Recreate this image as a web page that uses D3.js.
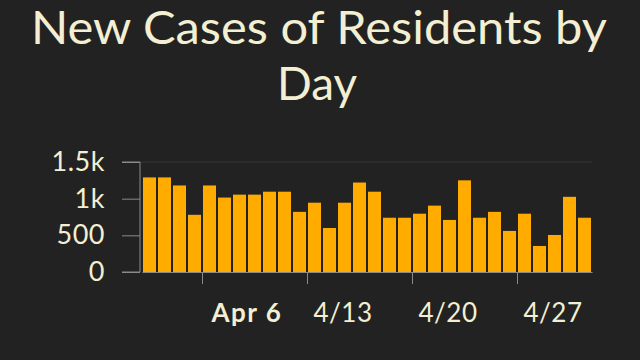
<!DOCTYPE html>
<html>
<head>
<meta charset="utf-8">
<script src="https://cdn.jsdelivr.net/npm/d3@7"></script>
<style>
  html, body { margin: 0; padding: 0; background: #222222; }
  svg { display: block; }
</style>
</head>
<body>
<div id="chart"></div>
<script>
// daily new cases, Apr 2 .. May 1
const firstDay = new Date(2020, 3, 2);
const cases = [1290, 1290, 1180, 780, 1180, 1015, 1055, 1055, 1095, 1095,
               820, 945, 600, 945, 1220, 1095, 740, 740, 795, 905,
               710, 1250, 740, 820, 560, 795, 355, 505, 1025, 740];
const yTicks = [0, 500, 1000, 1500];
const yTickLabels = ['0', '500', '1k', '1.5k'];
const xTickDates = [new Date(2020, 3, 6), new Date(2020, 3, 13), new Date(2020, 3, 20), new Date(2020, 3, 27)];
const xTickLabels = ['Apr 6', '4/13', '4/20', '4/27'];

const data = cases.map((v, i) => ({ date: d3.timeDay.offset(firstDay, i), value: v }));

const W = 640, H = 360;
const TEXT = '#f3efd3';
const FONT = 'Lato, "Open Sans", sans-serif';

const svg = d3.select('#chart').append('svg')
    .attr('width', W)
    .attr('height', H);

svg.append('rect')
    .attr('width', W).attr('height', H)
    .attr('fill', '#222222');

// title
const title = svg.append('text')
    .attr('text-anchor', 'middle')
    .attr('fill', TEXT)
    .style('font-family', FONT)
    .style('font-size', '46px');
title.append('tspan').attr('x', 319).attr('y', 44)
    .attr('textLength', 576)
    .attr('lengthAdjust', 'spacingAndGlyphs')
    .text('New Cases of Residents by');
title.append('tspan').attr('x', 317).attr('y', 100)
    .attr('textLength', 80)
    .attr('lengthAdjust', 'spacingAndGlyphs')
    .text('Day');

const x = d3.scaleTime()
    .domain([firstDay, d3.timeDay.offset(firstDay, cases.length)])
    .range([142, 592]);

const y = d3.scaleLinear()
    .domain([0, 1500])
    .range([272, 162]);

// faint top gridline
svg.append('line')
    .attr('x1', 140).attr('x2', 592)
    .attr('y1', y(1500)).attr('y2', y(1500))
    .attr('stroke', '#363636')
    .attr('stroke-width', 1);

// bars
const dayW = x(d3.timeDay.offset(firstDay, 1)) - x(firstDay);
svg.append('g').selectAll('rect')
    .data(data)
    .join('rect')
    .attr('x', d => x(d.date) + 1)
    .attr('y', d => y(d.value))
    .attr('width', dayW - 2)
    .attr('height', d => y(0) - y(d.value))
    .attr('fill', '#ffab00');

// y axis
const yAxis = svg.append('g')
    .attr('transform', 'translate(140,0)')
    .call(d3.axisLeft(y)
        .tickValues(yTicks)
        .tickFormat((d, i) => yTickLabels[i])
        .tickSize(18)
        .tickPadding(17));
yAxis.select('.domain').attr('stroke', '#8a8a8a').attr('d', `M-18,${y(1500)}H0V${y(0)}H-18`);
yAxis.selectAll('.tick line').attr('stroke', '#8a8a8a');
yAxis.selectAll('.tick text')
    .attr('fill', TEXT)
    .style('font-family', FONT)
    .style('font-size', '27px')
    .style('letter-spacing', '0.5px');

// x axis
const xAxis = svg.append('g')
    .attr('transform', `translate(0,${y(0)})`)
    .call(d3.axisBottom(x)
        .tickValues(xTickDates)
        .tickFormat((d, i) => xTickLabels[i])
        .tickSize(12)
        .tickSizeOuter(0));
xAxis.select('.domain').attr('stroke', '#8a8a8a');
xAxis.selectAll('.tick line').attr('stroke', '#8a8a8a');
xAxis.selectAll('.tick text')
    .attr('fill', TEXT)
    .attr('text-anchor', 'start')
    .attr('x', (d, i) => i === 0 ? 9 : 6)
    .attr('y', 32)
    .attr('dy', '0.71em')
    .style('font-family', FONT)
    .style('font-size', '26px')
    .style('font-weight', (d, i) => i === 0 ? 'bold' : 'normal')
    .style('letter-spacing', (d, i) => i === 0 ? '1.5px' : '0.5px');
</script>
</body>
</html>
